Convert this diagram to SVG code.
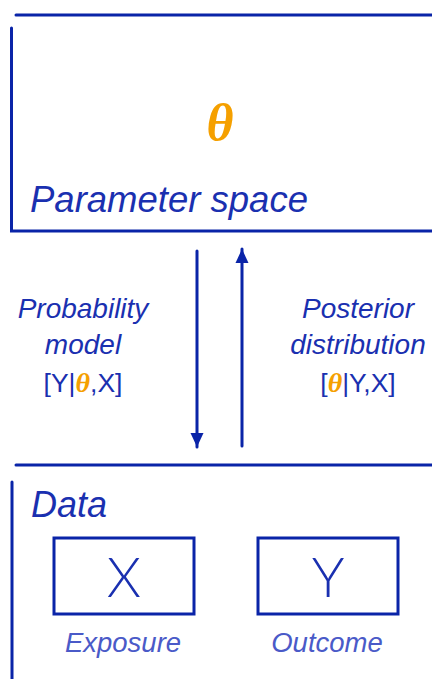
<svg xmlns="http://www.w3.org/2000/svg" width="432" height="679" viewBox="0 0 432 679">
<defs>
<marker id="ah" viewBox="0 0 14 14" refX="14" refY="7" markerWidth="14" markerHeight="14" orient="auto" markerUnits="userSpaceOnUse"><path d="M0,0.5 L14,7 L0,13.5 z" fill="#0a24a8"/></marker>
</defs>
<style>
.edge{stroke:#0a24a8;stroke-width:3;fill:none;stroke-linecap:round}
.lbl{font-family:"Liberation Sans",Arial,sans-serif;fill:#1a30b0}
.it{font-style:italic}
.light{font-family:Lato,"Open Sans","Liberation Sans",sans-serif;font-weight:300}
.th{font-family:"Liberation Serif","Times New Roman",serif;font-style:italic;font-weight:bold;fill:#f5a000}
.sub{fill:#4a5ac8}
</style>
<rect width="432" height="679" fill="#ffffff"/>
<g id="parameter-space">
<path class="edge" d="M16,15 L432,15"/>
<path class="edge" d="M11.5,28 L11.5,231 L432,231"/>
<text class="th" x="220" y="140" font-size="52" text-anchor="middle">θ</text>
<text class="lbl it" x="30" y="212" font-size="36.5">Parameter space</text>
</g>
<g id="connectors">
<path class="edge" d="M197,251 L197,447" stroke-width="2.5" marker-end="url(#ah)"/>
<path class="edge" d="M242,446 L242,249" stroke-width="2.5" marker-end="url(#ah)"/>
</g>
<g id="probability-model">
<text class="lbl it" x="83" y="318" font-size="28" text-anchor="middle">Probability</text>
<text class="lbl it" x="83" y="354" font-size="28" text-anchor="middle">model</text>
<text class="lbl" x="83" y="392" font-size="26.5" text-anchor="middle">[Y|<tspan class="th" font-size="28">θ</tspan>,X]</text>
</g>
<g id="posterior-distribution">
<text class="lbl it" x="358" y="318" font-size="28" text-anchor="middle">Posterior</text>
<text class="lbl it" x="358" y="354" font-size="28" text-anchor="middle">distribution</text>
<text class="lbl" x="358" y="392" font-size="26.5" text-anchor="middle">[<tspan class="th" font-size="28">θ</tspan>|Y,X]</text>
</g>
<g id="data">
<path class="edge" d="M16,465 L432,465"/>
<path class="edge" d="M12,482 L12,679"/>
<text class="lbl it" x="31" y="517" font-size="36">Data</text>
</g>
<g id="exposure">
<rect class="edge" x="54" y="538" width="140" height="76"/>
<text class="lbl light" x="124" y="597" font-size="55" text-anchor="middle">X</text>
<text class="lbl it sub" x="123" y="652" font-size="27.5" text-anchor="middle">Exposure</text>
</g>
<g id="outcome">
<rect class="edge" x="258" y="538" width="140" height="76"/>
<text class="lbl light" x="328" y="597" font-size="55" text-anchor="middle">Y</text>
<text class="lbl it sub" x="327" y="652" font-size="27.5" text-anchor="middle">Outcome</text>
</g>
</svg>
